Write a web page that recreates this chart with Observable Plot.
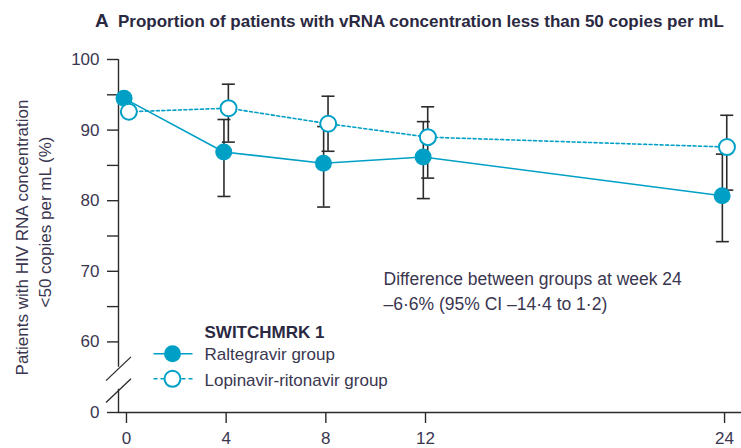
<!DOCTYPE html>
<html>
<head>
<meta charset="utf-8">
<script src="https://cdn.jsdelivr.net/npm/d3@7"></script>
<script src="https://cdn.jsdelivr.net/npm/@observablehq/plot@0.6"></script>
<style>
  html, body { margin: 0; padding: 0; background: #fff; }
  #wrap { width: 741px; height: 448px; position: relative; overflow: hidden; font-family: "Liberation Sans", Arial, sans-serif; }
  #title { position: relative; height: 40px; color: #2b2942; }
  #title .letter { position: absolute; left: 95px; top: 10px; font-size: 19px; font-weight: bold; }
  #title .text { position: absolute; left: 118px; top: 12px; font-size: 17px; font-weight: bold; white-space: nowrap; }
  svg { display: block; }
</style>
</head>
<body>
<div id="wrap">
  <div id="title"><span class="letter">A</span><span class="text">Proportion of patients with vRNA concentration less than 50 copies per mL</span></div>
  <div id="chart"></div>
</div>
<script>
// ---- data ----
const weeks = [0, 4, 8, 12, 24];
const raltegravir = [94.5, 86.9, 85.3, 86.2, 80.7];
const raltegravirLow = [null, 80.6, 79.1, 80.3, 74.2];
const raltegravirHigh = [null, 91.5, 90.5, 91.2, 86.6];
const lopinavir = [92.6, 93.1, 90.9, 89.0, 87.6];
const lopinavirLow = [null, 88.3, 87.0, 83.2, 81.5];
const lopinavirHigh = [null, 96.5, 94.8, 93.3, 92.1];
const yTicks = [50, 60, 70, 80, 90, 100];      // 50 is the broken-axis position of 0
const yTickLabels = ["0", "60", "70", "80", "90", "100"];
const yMinorTicks = [65, 75, 85, 95];
const axisBreak = [53.3, 56.4];
const breakMarks = [53.1, 56.2];
const seriesNames = ["Raltegravir group", "Lopinavir-ritonavir group"];
const legendTitle = "SWITCHMRK 1";
const noteLines = ["Difference between groups at week 24", "–6·6% (95% CI –14·4 to 1·2)"];
const yLabelLines = ["Patients with HIV RNA concentration", "<50 copies per mL (%)"];

// ---- styles ----
const teal = "#00a0c6";
const ink = "#2b2b2b";
const textColor = "#3a3650";
const xDomain = [-0.32, 24.68];

function rows(vals, lo, hi) {
  return weeks.map((w, i) => ({week: w, value: vals[i], low: lo[i], high: hi[i]}));
}
const ral = rows(raltegravir, raltegravirLow, raltegravirHigh);
const lop = rows(lopinavir, lopinavirLow, lopinavirHigh);
const ralCI = ral.filter(d => d.low != null);
const lopCI = lop.filter(d => d.low != null);
const caps = (arr) => arr.flatMap(d => [{week: d.week, y: d.low}, {week: d.week, y: d.high}]);

const hLine = {draw(ctx, size) { const r = Math.sqrt(size / Math.PI); ctx.moveTo(-r, 0); ctx.lineTo(r, 0); }};
const slash = {draw(ctx, size) { const r = Math.sqrt(size / Math.PI); ctx.moveTo(-r, 0.95 * r); ctx.lineTo(r, -0.95 * r); }};

const fa = {frameAnchor: "top-left", lineAnchor: "middle"};
const fs = 17;

const plot = Plot.plot({
  width: 741,
  height: 408,
  marginLeft: 118,
  marginRight: 0,
  marginTop: 19,
  marginBottom: 36,
  x: {domain: xDomain},
  y: {domain: [50, 100]},
  style: {fontFamily: "'Liberation Sans', Arial, sans-serif", fontSize: fs + "px", color: textColor, background: "white", overflow: "visible"},
  marks: [
    // axes
    Plot.axisY({ticks: yMinorTicks, tickFormat: () => "", tickSize: 11, stroke: ink, strokeWidth: 1.4}),
    Plot.axisY({ticks: yTicks, tickFormat: d => yTickLabels[yTicks.indexOf(d)], tickSize: 11, tickPadding: 8, label: null, stroke: ink, strokeWidth: 1.4, fill: textColor, fontSize: fs}),
    Plot.axisX({ticks: weeks, tickSize: 11, tickPadding: 8, label: null, stroke: ink, strokeWidth: 1.4, fill: textColor, fontSize: fs}),
    Plot.ruleY([50], {stroke: ink, strokeWidth: 1.4}),
    Plot.ruleX([{y1: axisBreak[1], y2: 100}, {y1: 50, y2: axisBreak[0]}], {x: xDomain[0], y1: "y1", y2: "y2", stroke: ink, strokeWidth: 1.4}),
    Plot.dot(breakMarks, {x: xDomain[0], y: d => d, symbol: slash, r: 12.5, stroke: ink, strokeWidth: 1.3}),
    // lines
    Plot.line(lop, {x: "week", y: "value", stroke: teal, strokeWidth: 1.6, strokeDasharray: "3,2.5", dx: 2.4}),
    Plot.line(ral, {x: "week", y: "value", stroke: teal, strokeWidth: 1.6, dx: -2.4}),
    // error bars
    Plot.ruleX(lopCI, {x: "week", y1: "low", y2: "high", stroke: ink, strokeWidth: 1.6, dx: 2.2}),
    Plot.dot(caps(lopCI), {x: "week", y: "y", symbol: hLine, r: 6.5, stroke: ink, strokeWidth: 1.6, dx: 2.2}),
    Plot.ruleX(ralCI, {x: "week", y1: "low", y2: "high", stroke: ink, strokeWidth: 1.6, dx: -2.2}),
    Plot.dot(caps(ralCI), {x: "week", y: "y", symbol: hLine, r: 6.5, stroke: ink, strokeWidth: 1.6, dx: -2.2}),
    // markers
    Plot.dot(ral, {x: "week", y: "value", r: 8.5, fill: teal, stroke: "none", dx: -2.4}),
    Plot.dot(lop, {x: "week", y: "value", r: 8, fill: "white", stroke: teal, strokeWidth: 2, dx: 2.4}),
    // y label
    Plot.text([yLabelLines[0]], {...fa, text: d => d, rotate: -90, textAnchor: "middle", dx: -96, dy: 178, fontSize: 17, fill: textColor}),
    Plot.text([yLabelLines[1]], {...fa, text: d => d, rotate: -90, textAnchor: "middle", dx: -73, dy: 162.5, fontSize: 17, fill: textColor}),
    // legend
    Plot.text([legendTitle], {...fa, text: d => d, dx: 86, dy: 272.7, textAnchor: "start", fontWeight: "bold", fontSize: 17, fill: "#2b2942"}),
    Plot.dot([0], {...fa, dx: 54.5, dy: 294.3, symbol: hLine, r: 19.5, stroke: teal, strokeWidth: 1.6}),
    Plot.dot([0], {...fa, dx: 54, dy: 294.3, r: 8.5, fill: teal, stroke: "none"}),
    Plot.text([seriesNames[0]], {...fa, text: d => d, dx: 86, dy: 295, textAnchor: "start", fontSize: fs, fill: textColor}),
    Plot.dot([0], {...fa, dx: 54.5, dy: 319.3, symbol: hLine, r: 19.5, stroke: teal, strokeWidth: 1.6, strokeDasharray: "4,3"}),
    Plot.dot([0], {...fa, dx: 54, dy: 319.3, r: 8, fill: "white", stroke: teal, strokeWidth: 2}),
    Plot.text([seriesNames[1]], {...fa, text: d => d, dx: 86, dy: 321, textAnchor: "start", fontSize: fs, fill: textColor}),
    // annotation
    Plot.text([noteLines[0]], {...fa, text: d => d, dx: 265, dy: 220, textAnchor: "start", fontSize: 17.5, fill: textColor}),
    Plot.text([noteLines[1]], {...fa, text: d => d, dx: 265, dy: 245, textAnchor: "start", fontSize: 17.5, fill: textColor})
  ]
});
document.getElementById("chart").appendChild(plot);
</script>
</body>
</html>
